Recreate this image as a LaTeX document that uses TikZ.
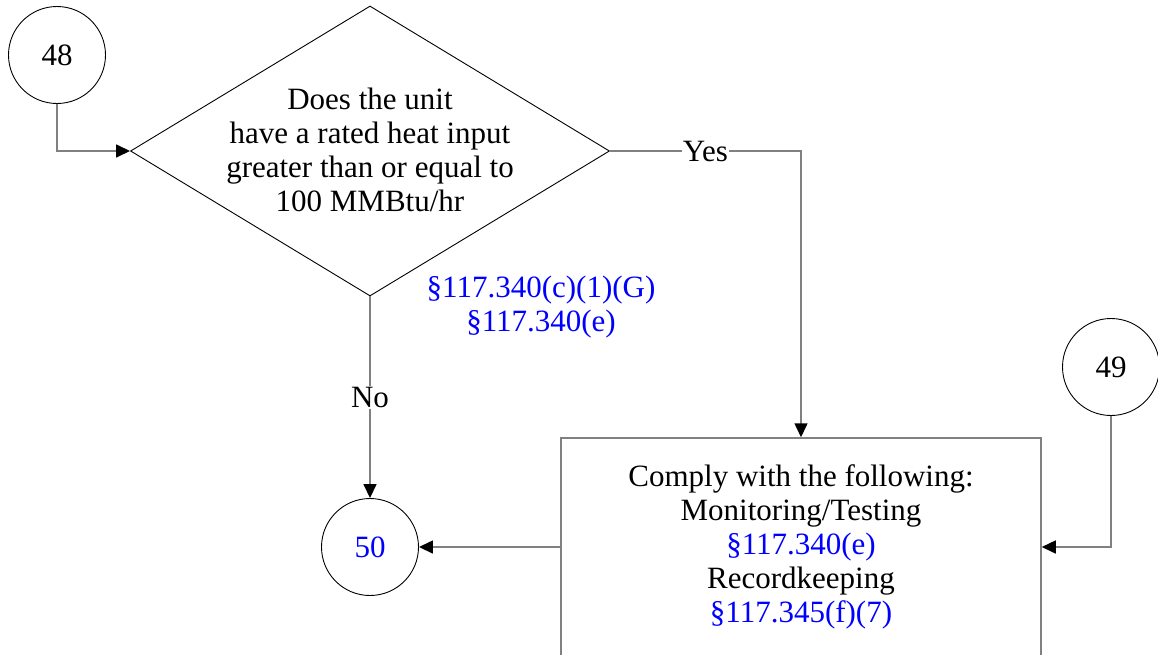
\documentclass[tikz,border=0pt]{standalone}
\usepackage{fontspec}
\setmainfont{Liberation Serif}
\usetikzlibrary{shapes.geometric,arrows.meta,positioning}

\definecolor{linegray}{HTML}{808080}
\definecolor{refblue}{HTML}{0000FF}

\begin{document}
\begin{tikzpicture}[
x=1pt, y=-1pt,
every node/.style={
  font=\fontsize{31}{34}\selectfont
  },
pagecirc/.style={
  draw,
  circle,
  line width=0.9pt,
  minimum size=97pt,
  inner sep=0pt
  },
decision/.style={
  draw,
  diamond,
  line width=0.9pt,
  minimum width=479pt,
  minimum height=290pt,
  inner sep=0pt
  },
action/.style={
  draw=linegray,
  rectangle,
  line width=1.5pt,
  minimum width=480pt,
  minimum height=218pt,
  align=center
  },
ref/.style={
  text=refblue
  },
conn/.style={
  draw=linegray,
  line width=1.5pt,
  -{Triangle[length=14pt,width=13pt,color=black]}
  },
lbl/.style={
  fill=white,
  inner sep=1pt
  }
]
\useasboundingbox (0,0) rectangle (1158,654);

% page connectors
\node[pagecirc] (c48) at (57,55) {48};
\node[pagecirc] (c49) at (1111,367) {49};
\node[pagecirc, ref] (c50) at (370,547) {50};

% decision
\node[decision] (dec) at (370,151) {};
\node[align=center] (dectext) at (370,150)
  {Does the unit\\have a rated heat input\\greater than or equal to\\100 MMBtu/hr};
\node[ref, align=center] (decref) at (541,307)
  {§117.340(c)(1)(G)\\§117.340(e)};

% action box
\node[action] (comply) at (801,547)
  {Comply with the following:\\Monitoring/Testing\\
   \textcolor{refblue}{§117.340(e)}\\Recordkeeping\\
   \textcolor{refblue}{§117.345(f)(7)}};

\draw[conn] (c48.south) |- (dec.west);
\draw[conn] (dec.east) -| node[lbl, pos=0.25] (yes) {Yes} (comply.north);
\draw[conn] (dec.south) -- node[lbl] (no) {No} (c50.north);
\draw[conn] (comply.west) -- (c50.east);
\draw[conn] (c49.south) |- (comply.east);

\end{tikzpicture}
\end{document}
